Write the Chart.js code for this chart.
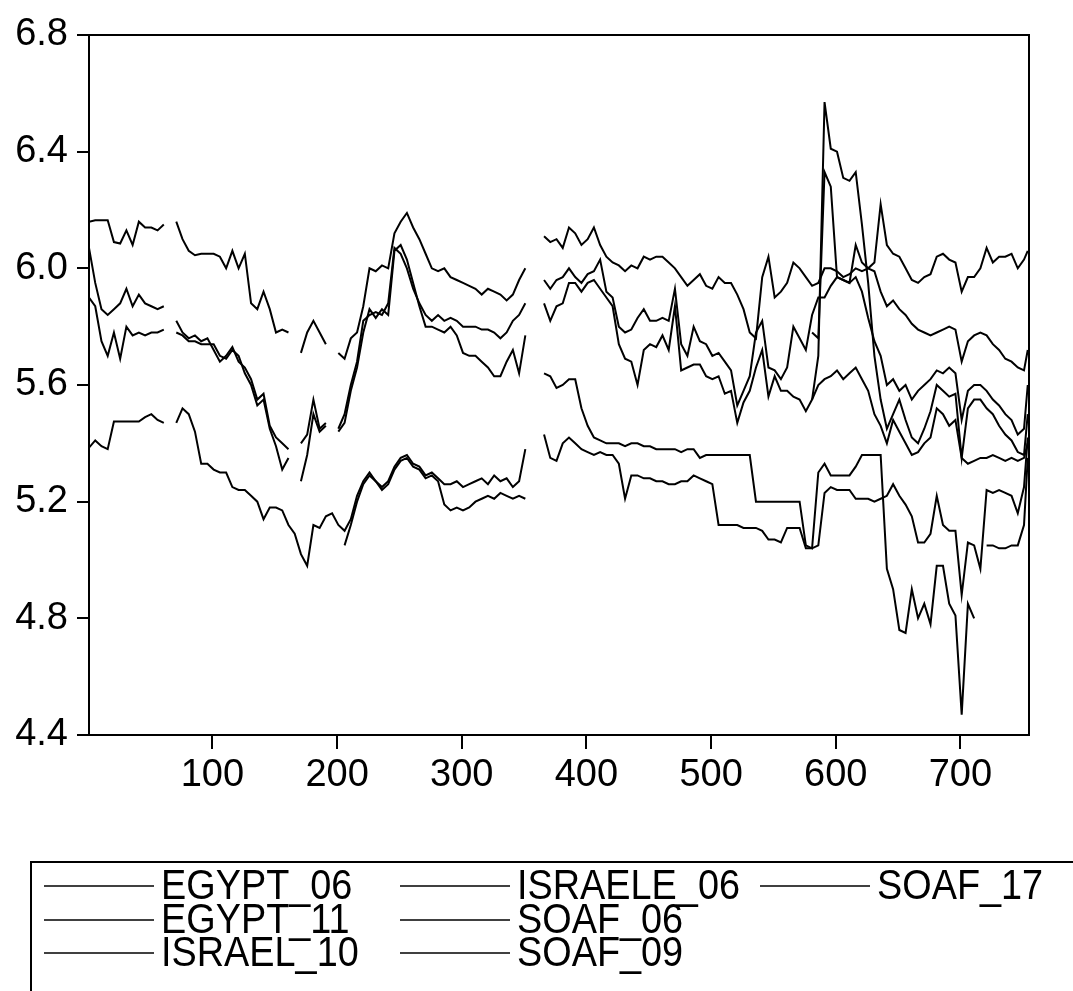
<!DOCTYPE html>
<html>
<head>
<meta charset="utf-8">
<script src="https://cdn.jsdelivr.net/npm/chart.js@4.4.1/dist/chart.umd.min.js"></script>
<style>
    html, body { margin: 0; padding: 0; background: #fff; }
    canvas { display: block; }
</style>
</head>
<body>
<canvas id="chart" width="1073" height="991"></canvas>
<script>
// ====== Data (observation grid, step 5) ======
const obs = Array.from({ length: 151 }, (_, i) => 1 + 5 * i).concat(754);
const xTicks = [100, 200, 300, 400, 500, 600, 700];
const yTicks = [4.4, 4.8, 5.2, 5.6, 6.0, 6.4, 6.8];

const egypt06 = [
    6.16, 6.165, 6.165, 6.165, 6.09, 6.085, 6.13, 6.08, 6.16, 6.14,
    6.14, 6.13, 6.15, null, 6.16, 6.10, 6.06, 6.045, 6.05, 6.05,
    6.05, 6.04, 6.00, 6.06, 6.00, 6.05, 5.88, 5.86, 5.92, 5.86,
    5.78, 5.79, 5.78, null, 5.71, 5.78, 5.82, 5.78, 5.74, null,
    5.71, 5.69, 5.76, 5.78, 5.87, 6.00, 5.99, 6.01, 6.00, 6.12,
    6.16, 6.19, 6.14, 6.10, 6.05, 6.00, 5.99, 6.00, 5.97, 5.96,
    5.95, 5.94, 5.93, 5.91, 5.93, 5.92, 5.91, 5.89, 5.91, 5.96,
    6.00, null, null, 6.11, 6.09, 6.10, 6.07, 6.14, 6.12, 6.08,
    6.10, 6.14, 6.08, 6.04, 6.02, 6.01, 5.99, 6.01, 6.00, 6.04,
    6.03, 6.04, 6.04, 6.02, 6.00, 5.97, 5.94, 5.96, 5.98, 5.94,
    5.93, 5.97, 5.95, 5.95, 5.91, 5.86, 5.78, 5.76, 5.97, 6.04,
    5.90, 5.92, 5.95, 6.02, 6.00, 5.97, 5.94, 5.95, 6.00, 6.00,
    5.99, 5.97, 5.98, 6.00, 5.99, 6.00, 6.02, 6.22, 6.08, 6.05,
    6.04, 6.00, 5.96, 5.95, 5.97, 5.98, 6.04, 6.05, 6.03, 6.02,
    5.92, 5.97, 5.97, 6.00, 6.07, 6.02, 6.04, 6.04, 6.05, 6.00,
    6.03, 6.06
];

const egypt11 = [
    6.07, 5.95, 5.86, 5.84, 5.86, 5.88, 5.93, 5.87, 5.91, 5.88,
    5.87, 5.86, 5.87, null, 5.82, 5.78, 5.76, 5.77, 5.75, 5.76,
    5.72, 5.68, 5.70, 5.73, 5.68, 5.66, 5.62, 5.55, 5.57, 5.46,
    5.42, 5.40, 5.38, null, 5.40, 5.43, 5.55, 5.45, 5.47, null,
    5.45, 5.50, 5.60, 5.68, 5.82, 5.84, 5.85, 5.84, 5.88, 6.07,
    6.05, 6.00, 5.93, 5.88, 5.84, 5.82, 5.84, 5.82, 5.83, 5.82,
    5.80, 5.80, 5.80, 5.79, 5.79, 5.78, 5.76, 5.78, 5.82, 5.84,
    5.88, null, null, 5.96, 5.93, 5.96, 5.97, 6.00, 5.97, 5.95,
    5.98, 5.99, 6.03, 5.92, 5.90, 5.80, 5.78, 5.79, 5.83, 5.86,
    5.82, 5.82, 5.83, 5.82, 5.93, 5.74, 5.70, 5.80, 5.75, 5.74,
    5.70, 5.71, 5.68, 5.65, 5.53, 5.58, 5.63, 5.78, 5.82, 5.66,
    5.65, 5.62, 5.66, 5.80, 5.76, 5.72, 5.84, 5.90, 5.90, 5.94,
    5.97, 5.96, 5.95, 6.08, 6.02, 6.00, 5.99, 5.92, 5.87, 5.89,
    5.86, 5.84, 5.81, 5.79, 5.78, 5.77, 5.78, 5.79, 5.80, 5.79,
    5.68, 5.75, 5.77, 5.78, 5.77, 5.74, 5.72, 5.69, 5.68, 5.66,
    5.65, 5.72
];

const israel10 = [
    5.90, 5.87, 5.75, 5.70, 5.78, 5.69, 5.80, 5.77, 5.78, 5.77,
    5.78, 5.78, 5.79, null, 5.78, 5.77, 5.75, 5.75, 5.74, 5.74,
    5.74, 5.70, 5.69, 5.72, 5.70, 5.64, 5.60, 5.53, 5.55, 5.45,
    5.39, 5.31, 5.35, null, 5.27, 5.36, 5.50, 5.44, 5.46, null,
    5.44, 5.47, 5.58, 5.66, 5.78, 5.86, 5.83, 5.86, 5.84, 6.06,
    6.08, 6.03, 5.95, 5.87, 5.80, 5.80, 5.79, 5.78, 5.80, 5.77,
    5.71, 5.70, 5.70, 5.68, 5.66, 5.63, 5.63, 5.68, 5.72, 5.64,
    5.77, null, null, 5.88, 5.82, 5.87, 5.88, 5.95, 5.95, 5.92,
    5.95, 5.96, 5.93, 5.90, 5.87, 5.74, 5.69, 5.68, 5.60, 5.72,
    5.74, 5.73, 5.77, 5.72, 5.87, 5.65, 5.66, 5.67, 5.67, 5.63,
    5.62, 5.63, 5.57, 5.58, 5.47, 5.54, 5.58, 5.66, 5.72, 5.56,
    5.63, 5.58, 5.58, 5.56, 5.55, 5.51, 5.55, 5.60, 5.62, 5.63,
    5.65, 5.62, 5.64, 5.66, 5.62, 5.58, 5.50, 5.46, 5.40, 5.48,
    5.44, 5.40, 5.36, 5.37, 5.40, 5.42, 5.52, 5.50, 5.46, 5.48,
    5.35, 5.33, 5.34, 5.35, 5.35, 5.36, 5.35, 5.34, 5.35, 5.34,
    5.35, 5.40
];

const israele06 = [
    5.385, 5.41, 5.39, 5.38, 5.475, 5.475, 5.475, 5.475, 5.475, 5.49,
    5.50, 5.48, 5.47, null, 5.47, 5.52, 5.50, 5.44, 5.33, 5.33,
    5.31, 5.30, 5.30, 5.25, 5.24, 5.24, 5.22, 5.20, 5.14, 5.18,
    5.18, 5.17, 5.12, 5.09, 5.02, 4.98, 5.12, 5.11, 5.15, 5.16,
    5.12, 5.10, 5.14, 5.22, 5.27, 5.30, 5.27, 5.25, 5.27, 5.32,
    5.35, 5.36, 5.33, 5.32, 5.29, 5.30, 5.28, 5.26, 5.26, 5.27,
    5.25, 5.26, 5.27, 5.28, 5.26, 5.29, 5.27, 5.28, 5.25, 5.27,
    5.38, null, null, 5.64, 5.63, 5.59, 5.60, 5.62, 5.62, 5.52,
    5.46, 5.42, 5.41, 5.40, 5.40, 5.40, 5.39, 5.40, 5.40, 5.39,
    5.39, 5.38, 5.38, 5.38, 5.38, 5.37, 5.38, 5.38, 5.35, 5.36,
    5.36, 5.36, 5.36, 5.36, 5.36, 5.36, 5.36, 5.20, 5.20, 5.20,
    5.20, 5.20, 5.20, 5.20, 5.20, 5.05, 5.04, 5.30, 5.33, 5.29,
    5.29, 5.29, 5.29, 5.32, 5.36, 5.36, 5.36, 5.36, 4.97, 4.90,
    4.76, 4.75, 4.90, 4.80, 4.85, 4.78, 4.98, 4.98, 4.85, 4.81,
    4.47, 4.85, 4.80, null, 5.05, 5.05, 5.04, 5.04, 5.05, 5.05,
    5.12, 5.35
];

const soaf06 = Array(41).fill(null).concat([
    5.05, 5.12, 5.20, 5.26, 5.29, 5.27, 5.24, 5.26, 5.31,
    5.34, 5.35, 5.32, 5.31, 5.28, 5.29, 5.27, 5.19, 5.17, 5.18,
    5.17, 5.18, 5.20, 5.21, 5.22, 5.21, 5.23, 5.22, 5.21, 5.22,
    5.21, null, null, 5.43, 5.35, 5.34, 5.40, 5.42, 5.40, 5.38,
    5.37, 5.36, 5.37, 5.36, 5.36, 5.33, 5.21, 5.29, 5.29, 5.28,
    5.28, 5.27, 5.27, 5.26, 5.26, 5.27, 5.27, 5.29, 5.28, 5.27,
    5.26, 5.12, 5.12, 5.12, 5.12, 5.11, 5.11, 5.11, 5.10, 5.07,
    5.07, 5.06, 5.11, 5.11, 5.11, 5.04, 5.04, 5.05, 5.23, 5.25,
    5.24, 5.24, 5.24, 5.21, 5.21, 5.21, 5.20, 5.21, 5.22, 5.26,
    5.22, 5.19, 5.15, 5.06, 5.06, 5.09, 5.22, 5.12, 5.10, 5.10,
    4.88, 5.06, 5.05, 4.97, 5.24, 5.23, 5.24, 5.23, 5.22, 5.16,
    5.25, 5.42
]);

const soaf09 = Array(116).fill(null).concat([
    5.78, 5.76, 6.33, 6.28, 5.97, 5.96, 5.95, 5.97, 5.92, 5.83,
    5.75, 5.70, 5.60, 5.62, 5.58, 5.60, 5.55, 5.58, 5.60, 5.62,
    5.65, 5.64, 5.66, 5.64, 5.48, 5.58, 5.60, 5.60, 5.58, 5.55,
    5.53, 5.50, 5.48, 5.43, 5.45, 5.60
]);

const soaf17 = Array(116).fill(null).concat([
    5.55, 5.70, 6.57, 6.41, 6.40, 6.31, 6.30, 6.33, 6.15, 5.95,
    5.70, 5.55, 5.45, 5.50, 5.55, 5.48, 5.42, 5.40, 5.45, 5.51,
    5.60, 5.58, 5.56, 5.57, 5.35, 5.52, 5.55, 5.55, 5.52, 5.50,
    5.46, 5.43, 5.41, 5.37, 5.36, 5.50
]);

const seriesNames = ['EGYPT_06', 'EGYPT_11', 'ISRAEL_10', 'ISRAELE_06', 'SOAF_06', 'SOAF_09', 'SOAF_17'];
const seriesValues = [egypt06, egypt11, israel10, israele06, soaf06, soaf09, soaf17];

// ====== Legend layout (3 rows, filled column by column) ======
const legendCols = [44, 400, 760];
const legendRows = [886, 920, 953];

// frame around the plot area
const frame = {
    id: 'frame',
    afterDatasetsDraw(chart) {
        const { ctx, chartArea: a } = chart;
        ctx.save();
        ctx.strokeStyle = '#000';
        ctx.lineWidth = 2;
        ctx.strokeRect(a.left, a.top, a.right - a.left, a.bottom - a.top);
        ctx.restore();
    }
};

// boxed legend under the chart, narrow lettering
const boxLegend = {
    id: 'boxLegend',
    afterDraw(chart) {
        const ctx = chart.ctx;
        ctx.save();
        ctx.strokeStyle = '#000';
        ctx.fillStyle = '#000';
        ctx.lineWidth = 2;
        ctx.strokeRect(31, 862, 1100, 200);
        ctx.font = '43px "Liberation Sans", Arial, sans-serif';
        ctx.textBaseline = 'middle';
        chart.data.datasets.forEach((ds, i) => {
            const x = legendCols[Math.floor(i / 3)];
            const y = legendRows[i % 3];
            ctx.lineWidth = 1.5;
            ctx.beginPath();
            ctx.moveTo(x, y);
            ctx.lineTo(x + 110, y);
            ctx.stroke();
            ctx.save();
            ctx.translate(x + 117, y + 1);
            ctx.scale(0.88, 1);
            ctx.fillText(ds.label, 0, 0);
            ctx.restore();
        });
        ctx.restore();
    }
};

const tickFont = { size: 38, family: '"Liberation Sans", Arial, sans-serif' };

new Chart(document.getElementById('chart'), {
    type: 'line',
    data: {
        datasets: seriesNames.map((name, k) => ({
            label: name,
            data: obs.map((x, i) => ({ x, y: seriesValues[k][i] })),
            borderColor: '#000',
            borderWidth: 2,
            pointRadius: 0,
            tension: 0,
            spanGaps: false
        }))
    },
    options: {
        responsive: false,
        animation: false,
        devicePixelRatio: 1,
        layout: { padding: { top: 35, right: 44, left: 0, bottom: 0 } },
        plugins: {
            legend: { display: false },
            tooltip: { enabled: false }
        },
        scales: {
            x: {
                type: 'linear',
                min: 1,
                max: 755,
                afterBuildTicks: s => { s.ticks = xTicks.map(v => ({ value: v })); },
                afterFit: s => { s.height = 256; },
                grid: { drawOnChartArea: false, drawTicks: true, tickLength: 14, color: '#000', lineWidth: 2 },
                border: { display: true, color: '#000', width: 2 },
                ticks: { color: '#000', font: tickFont, padding: 4, maxRotation: 0, autoSkip: false }
            },
            y: {
                min: 4.4,
                max: 6.8,
                afterBuildTicks: s => { s.ticks = yTicks.map(v => ({ value: v })); },
                afterFit: s => { s.width = 89; },
                grid: { drawOnChartArea: false, drawTicks: true, tickLength: 12, color: '#000', lineWidth: 2 },
                border: { display: true, color: '#000', width: 2 },
                ticks: { color: '#000', font: tickFont, padding: 9, callback: v => Number(v).toFixed(1) }
            }
        }
    },
    plugins: [frame, boxLegend]
});
</script>
</body>
</html>
